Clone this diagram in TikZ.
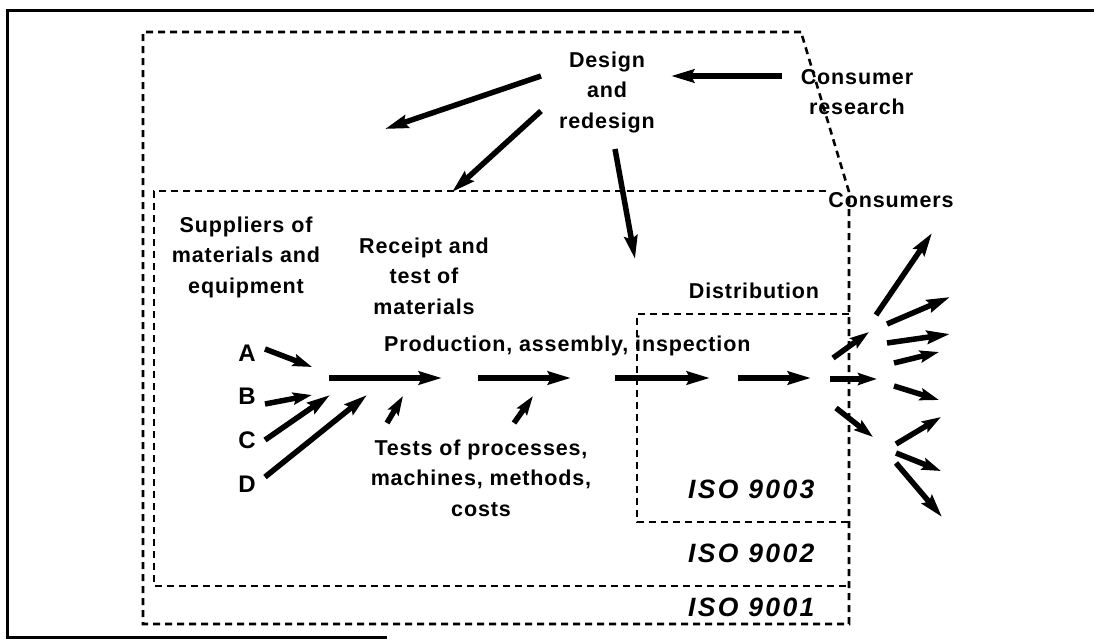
\documentclass[tikz,border=0pt]{standalone}
\usepackage{fontspec}
\usetikzlibrary{arrows.meta}
\newfontfamily\lblfamily{Liberation Sans}[LetterSpace=4]
\newfontfamily\isofamily{Liberation Sans}[LetterSpace=9]
\newcommand{\lbl}{\lblfamily\bfseries\fontsize{21.5}{30.5}\selectfont}
\newcommand{\isolbl}{\isofamily\bfseries\itshape\fontsize{26.5}{30}\selectfont}
\newcommand{\srclbl}{\lblfamily\bfseries\fontsize{24}{28}\selectfont}
\begin{document}
\begin{tikzpicture}[x=1pt,y=-1pt,
  txt/.style={font=\lbl, align=center, inner sep=0pt},
  isotxt/.style={font=\isolbl, inner sep=0pt, anchor=west},
  srctxt/.style={font=\srclbl, inner sep=0pt},
  zone/.style={line width=2.6pt, dash pattern=on 7pt off 5pt},
  flow/.style={line width=5.5pt, -{Stealth[length=23pt,width=13pt,inset=3pt]}},
  shortflow/.style={line width=5.5pt, -{Stealth[length=19pt,width=12pt,inset=3pt]}},
  frameline/.style={line width=3pt}]

\useasboundingbox (0,0) rectangle (1094,640);

% outer frame
\coordinate (f1) at (1094,10);
\coordinate (f2) at (7,10);
\coordinate (f3) at (7,637);
\coordinate (f4) at (387,637);
\draw[frameline] (f1) -- (f2) -- (f3) -- (f4);

% ISO 9001 zone (slanted right edge towards the consumers)
\coordinate (z1a) at (801,32);
\coordinate (z1b) at (143,32);
\coordinate (z1c) at (143,624);
\coordinate (z1d) at (849,624);
\coordinate (z1e) at (849,192);
\draw[zone] (z1a) -- (z1b) -- (z1c) -- (z1d) -- (z1e) -- cycle;

% ISO 9002 zone
\coordinate (z2a) at (826,191);
\coordinate (z2b) at (154,191);
\coordinate (z2c) at (154,586);
\coordinate (z2d) at (849,586);
\draw[zone] (z2a) -- (z2b) -- (z2c) -- (z2d);

% ISO 9003 zone
\coordinate (z3a) at (849,314);
\coordinate (z3b) at (637,314);
\coordinate (z3c) at (637,522);
\coordinate (z3d) at (849,522);
\draw[zone] (z3a) -- (z3b) -- (z3c) -- (z3d);

% labels
\node[txt] (design) at (607,92) {Design\\and\\redesign};
\node[txt] (research) at (857,92) {Consumer\\research};
\node[txt] (consumers) at (891,200) {Consumers};
\node[txt] (suppliers) at (246,257) {Suppliers of\\materials and\\equipment};
\node[txt] (receipt) at (424,276) {Receipt and\\test of\\materials};
\node[txt] (distribution) at (754,291) {Distribution};
\node[txt, anchor=west] (production) at (384,346) {Production, assembly, inspection};
\node[txt] (tests) at (481,478) {Tests of processes,\\machines, methods,\\costs};
\node[srctxt] (A) at (247,353) {A};
\node[srctxt] (B) at (247,396) {B};
\node[srctxt] (C) at (247,440) {C};
\node[srctxt] (D) at (247,484) {D};
\node[isotxt] (iso3) at (688,489) {ISO 9003};
\node[isotxt] (iso2) at (688,553) {ISO 9002};
\node[isotxt] (iso1) at (688,607) {ISO 9001};

% design arrows
\coordinate (cr0) at (782,76);  \coordinate (cr1) at (671,76);
\coordinate (dl0) at (541,76);  \coordinate (dl1) at (385,129);
\coordinate (dm0) at (541,111); \coordinate (dm1) at (452,192);
\coordinate (dd0) at (615,149); \coordinate (dd1) at (635,259);
\draw[flow] (cr0) -- (cr1);
\draw[flow] (dl0) -- (dl1);
\draw[flow] (dm0) -- (dm1);
\draw[flow] (dd0) -- (dd1);

% suppliers into production
\coordinate (a0) at (265,349); \coordinate (a1) at (312,367);
\coordinate (b0) at (265,404); \coordinate (b1) at (312,395);
\coordinate (c0) at (265,440); \coordinate (c1) at (330,395);
\coordinate (d0) at (265,477); \coordinate (d1) at (367,395);
\draw[shortflow] (a0) -- (a1);
\draw[shortflow] (b0) -- (b1);
\draw[flow] (c0) -- (c1);
\draw[flow] (d0) -- (d1);

% tests feeding the line
\coordinate (t10) at (387,423); \coordinate (t11) at (403,396);
\coordinate (t20) at (514,423); \coordinate (t21) at (533,396);
\draw[shortflow] (t10) -- (t11);
\draw[shortflow] (t20) -- (t21);

% main production line
\coordinate (m10) at (329,378); \coordinate (m11) at (442,378);
\coordinate (m20) at (478,378); \coordinate (m21) at (571,378);
\coordinate (m30) at (615,378); \coordinate (m31) at (710,378);
\coordinate (m40) at (738,378); \coordinate (m41) at (811,378);
\coordinate (m50) at (830,379); \coordinate (m51) at (877,379);
\draw[flow] (m10) -- (m11);
\draw[flow] (m20) -- (m21);
\draw[flow] (m30) -- (m31);
\draw[flow] (m40) -- (m41);
\draw[shortflow] (m50) -- (m51);

% spreading out to consumers
\coordinate (s10) at (833,358); \coordinate (s11) at (869,332);
\coordinate (s30) at (836,408); \coordinate (s31) at (873,437);
\draw[shortflow] (s10) -- (s11);
\draw[shortflow] (s30) -- (s31);

\coordinate (r10) at (876,315); \coordinate (r11) at (932,233);
\coordinate (r20) at (887,324); \coordinate (r21) at (950,297);
\coordinate (r30) at (887,343); \coordinate (r31) at (950,334);
\coordinate (r40) at (894,363); \coordinate (r41) at (939,352);
\coordinate (r50) at (894,386); \coordinate (r51) at (939,400);
\coordinate (r60) at (896,444); \coordinate (r61) at (941,417);
\coordinate (r70) at (896,453); \coordinate (r71) at (941,471);
\coordinate (r80) at (896,463); \coordinate (r81) at (942,517);
\draw[flow] (r10) -- (r11);
\draw[flow] (r20) -- (r21);
\draw[flow] (r30) -- (r31);
\draw[shortflow] (r40) -- (r41);
\draw[shortflow] (r50) -- (r51);
\draw[shortflow] (r60) -- (r61);
\draw[shortflow] (r70) -- (r71);
\draw[flow] (r80) -- (r81);
\end{tikzpicture}
\end{document}
